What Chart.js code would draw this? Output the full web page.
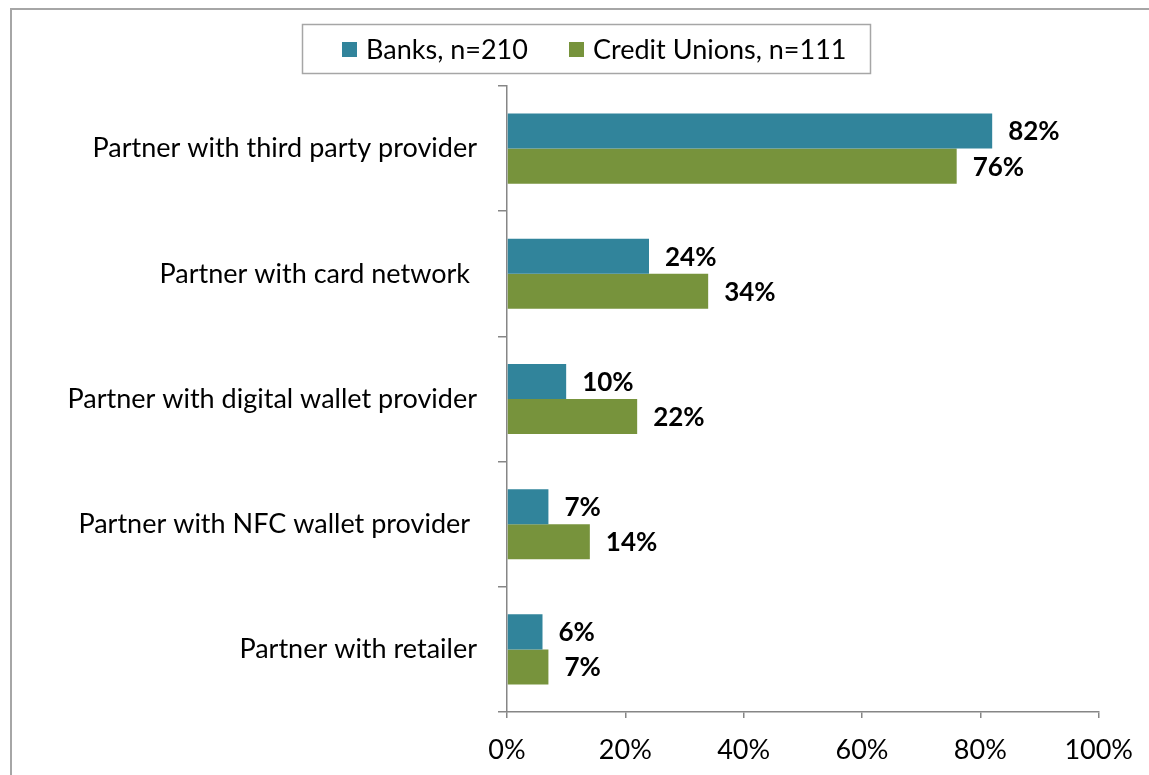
<!DOCTYPE html>
<html><head><meta charset="utf-8">
<script src="https://cdn.jsdelivr.net/npm/chart.js@4/dist/chart.umd.min.js"></script>
<style>
html,body{margin:0;padding:0;background:#fff;overflow:hidden}
canvas{display:block}
</style>
</head><body>
<canvas id="c" width="1149" height="775"></canvas>
<script>
// Partnership approach by institution type (share of respondents, %)
const categories = [
  'Partner with third party provider',
  'Partner with card network ',
  'Partner with digital wallet provider',
  'Partner with NFC wallet provider ',
  'Partner with retailer'
];
const banks = [82, 24, 10, 7, 6];
const creditUnions = [76, 34, 22, 14, 7];
const seriesNames = ['Banks, n=210', 'Credit Unions, n=111'];
const seriesColors = ['#31849B', '#77933C'];
const xTickValues = [0, 20, 40, 60, 80, 100];

const FONT = 'Lato, "Open Sans", sans-serif';
const AXIS = '#868686';

// Outer frame of the chart
const framePlugin = {
  id: 'frame',
  beforeDraw(chart) {
    const ctx = chart.ctx;
    ctx.save();
    ctx.fillStyle = '#fff';
    ctx.fillRect(0, 0, chart.width, chart.height);
    ctx.strokeStyle = '#A6A6A6';
    ctx.lineWidth = 2;
    ctx.strokeRect(11, 9, chart.width + 20, chart.height + 20);
    ctx.restore();
  }
};

// Boxed legend above the plot
const boxLegendPlugin = {
  id: 'boxLegend',
  afterDraw(chart) {
    const ctx = chart.ctx;
    ctx.save();
    ctx.strokeStyle = '#A6A6A6';
    ctx.lineWidth = 1.5;
    ctx.strokeRect(302.5, 24.5, 568, 49);
    ctx.font = '27px ' + FONT;
    ctx.textBaseline = 'middle';
    const starts = [342, 569];
    chart.data.datasets.forEach((ds, i) => {
      const x = starts[i];
      ctx.fillStyle = ds.backgroundColor;
      ctx.fillRect(x, 42, 15, 15);
      ctx.fillStyle = '#000';
      ctx.fillText(ds.label, x + 24, 50);
    });
    ctx.restore();
  }
};

// Value labels at the end of each bar
const valueLabelPlugin = {
  id: 'valueLabels',
  afterDatasetsDraw(chart) {
    const ctx = chart.ctx;
    ctx.save();
    ctx.font = 'bold 26px ' + FONT;
    ctx.fillStyle = '#000';
    ctx.textBaseline = 'middle';
    ctx.textAlign = 'left';
    chart.data.datasets.forEach((ds, di) => {
      const meta = chart.getDatasetMeta(di);
      meta.data.forEach((el, i) => {
        ctx.fillText(ds.data[i] + '%', el.x + 16, el.y + 1);
      });
    });
    ctx.restore();
  }
};

new Chart(document.getElementById('c'), {
  type: 'bar',
  data: {
    labels: categories,
    datasets: [
      { label: seriesNames[0], data: banks, backgroundColor: seriesColors[0] },
      { label: seriesNames[1], data: creditUnions, backgroundColor: seriesColors[1] }
    ]
  },
  options: {
    indexAxis: 'y',
    responsive: false,
    animation: false,
    devicePixelRatio: 1,
    layout: { padding: { top: 86, right: 48, bottom: 0, left: 0 } },
    datasets: { bar: { categoryPercentage: 0.56, barPercentage: 1.0 } },
    plugins: { legend: { display: false }, tooltip: { enabled: false } },
    scales: {
      x: {
        min: 0, max: 100,
        afterBuildTicks(scale) { scale.ticks = xTickValues.map(v => ({ value: v })); },
        afterFit(scale) { scale.height = 63; },
        ticks: {
          callback: v => v + '%',
          color: '#000',
          font: { family: FONT, size: 27 },
          padding: 16,
          maxRotation: 0
        },
        grid: { drawOnChartArea: false, tickLength: 6, color: AXIS, lineWidth: 1.5 },
        border: { color: AXIS, width: 1.5 }
      },
      y: {
        afterFit(scale) { scale.width = 507; },
        ticks: {
          color: '#000',
          font: { family: FONT, size: 27 },
          padding: 21
        },
        grid: { drawOnChartArea: false, tickLength: 9, color: AXIS, lineWidth: 1.5, offset: true },
        border: { color: AXIS, width: 1.5 }
      }
    }
  },
  plugins: [framePlugin, boxLegendPlugin, valueLabelPlugin]
});
</script>
</body></html>
